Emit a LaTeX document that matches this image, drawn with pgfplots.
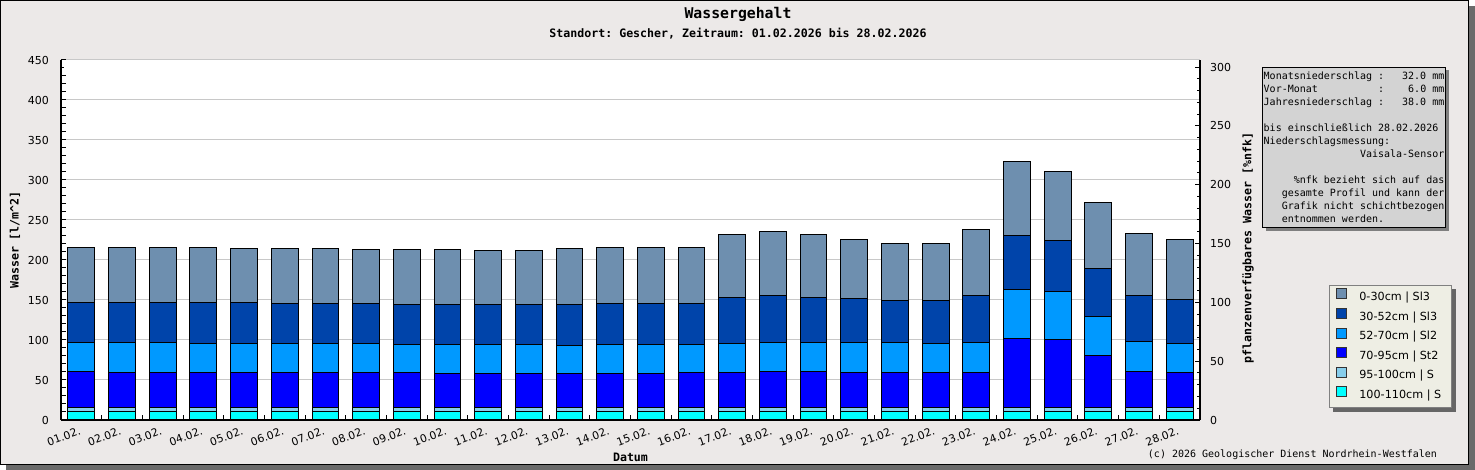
\documentclass[border=0pt]{standalone}
\usepackage{fontspec}
\usepackage{pgfplots}
\usepackage{pgfplotstable}
\pgfplotsset{compat=1.18}
\usetikzlibrary{shadows}
\newfontfamily\monofont{DejaVu Sans Mono}
\newfontfamily\sansfont{DejaVu Sans}
\definecolor{bg}{HTML}{ECE9E8}
\definecolor{frameshadow}{HTML}{6A6A6A}
\definecolor{gridgray}{HTML}{C8C8C8}
\definecolor{cA}{HTML}{6E8FAF}
\definecolor{cB}{HTML}{0044AA}
\definecolor{cC}{HTML}{0099FF}
\definecolor{cD}{HTML}{0000FF}
\definecolor{cE}{HTML}{87CEEB}
\definecolor{cF}{HTML}{00FFFF}
\definecolor{boxgray}{HTML}{D3D3D3}
\definecolor{boxshadow}{HTML}{7F7F7F}
\definecolor{legbg}{HTML}{EEEEE4}
\definecolor{legborder}{HTML}{808080}
\definecolor{legshadow}{HTML}{666666}
\pgfdeclarelayer{back}
\pgfdeclarelayer{shadow}
\pgfsetlayers{back,shadow,main}
\frenchspacing

% cumulative heights (top edge of each layer), l/m^2
\pgfplotstableread{
day tot c30 c52 c70 c95 c100
1 215.8 147.0 96.7 60.8 15.5 11
2 215.8 147.0 96.7 59.6 15.5 11
3 215.8 147.0 96.7 59.6 15.5 11
4 215.8 147.0 95.4 59.6 15.5 11
5 214.6 147.0 95.4 59.6 15.5 11
6 214.6 145.8 95.4 59.6 15.5 11
7 214.6 145.8 95.4 59.6 15.5 11
8 213.3 145.8 95.4 59.6 15.5 11
9 213.3 144.6 94.2 59.6 15.5 11
10 213.3 144.6 94.2 58.3 15.5 11
11 212.0 144.6 94.2 58.3 15.5 11
12 212.0 144.6 94.2 58.3 15.5 11
13 214.6 144.6 93.3 58.3 15.5 11
14 215.8 145.8 94.2 58.3 15.5 11
15 215.8 145.8 94.2 58.3 15.5 11
16 215.8 145.8 94.2 59.6 15.5 11
17 232.1 153.3 95.8 59.6 15.5 11
18 235.8 155.8 97.1 61.2 15.5 11
19 232.1 153.3 97.1 61.2 15.5 11
20 225.8 152.1 97.1 59.6 15.5 11
21 220.8 149.6 97.1 59.6 15.5 11
22 220.8 149.6 95.8 59.6 15.5 11
23 238.3 155.8 97.1 59.6 15.5 11
24 323.3 230.8 163.3 102.1 15.5 11
25 310.8 224.6 160.8 100.8 15.5 11
26 272.1 189.6 129.6 80.8 15.5 11
27 233.3 155.8 98.3 60.8 15.5 11
28 225.8 150.8 95.8 59.6 15.5 11
}\data

\pgfplotsset{sq/.style={legend image code/.code={\draw[##1,line width=0.4pt,draw=black!80] (0pt,-0.6pt) rectangle (5pt,4.4pt);}}}

\begin{document}
\begin{tikzpicture}
\begin{pgfonlayer}{back}
\fill[frameshadow] (3pt,0pt) rectangle (737.5pt,232pt);
\fill[bg,draw=black,line width=0.6pt] (0.3pt,2.8pt) rectangle (734.2pt,234.7pt);
\end{pgfonlayer}

\node[font=\monofont\bfseries\fontsize{7.4}{8}\selectfont] at (369pt,227.6pt) {Wassergehalt};
\node[font=\monofont\bfseries\fontsize{5.8}{7}\selectfont] at (369pt,218pt) {Standort: Gescher, Zeitraum: 01.02.2026 bis 28.02.2026};
\node[font=\monofont\fontsize{5}{6}\selectfont,anchor=east] at (722pt,7.5pt) {(c) 2026 Geologischer Dienst Nordrhein-Westfalen};

\begin{axis}[
  at={(30.5pt,25pt)}, anchor=south west, scale only axis,
  width=569.5pt, height=180pt,
  xmin=0.5, xmax=28.5, ymin=0, ymax=450,
  axis background/.style={fill=white},
  ybar, bar width=13.4pt, bar shift=0pt,
  axis x line*=bottom, axis y line*=left,
  axis line style={-, line width=0.6pt, black},
  xtick={1,...,28},
  xticklabels={01.02.,02.02.,03.02.,04.02.,05.02.,06.02.,07.02.,08.02.,09.02.,10.02.,11.02.,12.02.,13.02.,14.02.,15.02.,16.02.,17.02.,18.02.,19.02.,20.02.,21.02.,22.02.,23.02.,24.02.,25.02.,26.02.,27.02.,28.02.},
  minor xtick={1.5,2.5,...,27.5},
  major x tick style={draw=none},
  ytick={0,50,...,450}, minor y tick num=4,
  ymajorgrids, grid style={draw=gridgray, line width=0.5pt},
  major tick length=2.5pt, minor tick length=2.5pt,
  minor y tick style={shorten >=1.2pt},
  tick style={black, line width=0.5pt},
  tick align=inside,
  /pgf/number format/assume math mode=true,
  yticklabel style={font=\sansfont\fontsize{5.5}{6}\selectfont, xshift=-2.5pt},
  xticklabel style={font=\sansfont\fontsize{5.4}{6}\selectfont, xshift=-1pt, yshift=-2.5pt, rotate=20, anchor=north east, inner sep=0.5pt},
  every axis y label/.style={at={(axis description cs:0,0.5)}, xshift=-23pt, rotate=90, anchor=center},
  every axis x label/.style={at={(axis description cs:0.5,0)}, anchor=center, yshift=-18.5pt},
  ylabel={Wasser [l/m\textasciicircum 2]},
  xlabel={Datum},
  label style={font=\monofont\bfseries\fontsize{5.8}{7}\selectfont},
  legend style={at={(axis description cs:1.1133,0.375)}, anchor=north west,
    name=leg,
    fill=legbg, draw=legborder, line width=0.5pt,
    font=\sansfont\fontsize{5.6}{6.5}\selectfont,
    row sep=0pt, column sep=4.5pt, inner xsep=3pt, inner ysep=1.2pt},
  legend cell align=left,
]
\addplot[fill=cA, draw=black, line width=0.5pt, sq] table[x=day,y=tot]{\data};
\addlegendentry{0-30cm | Sl3}
\addplot[fill=cB, draw=black, line width=0.5pt, sq] table[x=day,y=c30]{\data};
\addlegendentry{30-52cm | Sl3}
\addplot[fill=cC, draw=black, line width=0.5pt, sq] table[x=day,y=c52]{\data};
\addlegendentry{52-70cm | Sl2}
\addplot[fill=cD, draw=black, line width=0.5pt, sq] table[x=day,y=c70]{\data};
\addlegendentry{70-95cm | St2}
\addplot[fill=cE, draw=black, line width=0.5pt, sq] table[x=day,y=c95]{\data};
\addlegendentry{95-100cm | S}
\addplot[fill=cF, draw=black, line width=0.5pt, sq] table[x=day,y=c100]{\data};
\addlegendentry{100-110cm | S}
\end{axis}

\begin{pgfonlayer}{shadow}
\fill[legshadow] ([xshift=2pt,yshift=-2pt]leg.south west) rectangle ([xshift=2pt,yshift=-2pt]leg.north east);
\end{pgfonlayer}

\begin{axis}[
  at={(30.5pt,25pt)}, anchor=south west, scale only axis,
  width=569.5pt, height=180pt,
  xmin=0.5, xmax=28.5, ymin=0, ymax=306,
  axis x line=none, axis y line*=right,
  axis line style={-, line width=0.6pt, black},
  ytick={0,50,...,300}, minor y tick num=4,
  major tick length=2.5pt, minor tick length=1.5pt,
  tick style={black, line width=0.5pt},
  tick align=inside,
  /pgf/number format/assume math mode=true,
  yticklabel style={font=\sansfont\fontsize{5.5}{6}\selectfont, xshift=1.5pt},
  every axis y label/.style={at={(axis description cs:1,0.5)}, xshift=24pt, yshift=-4pt, rotate=90, anchor=center},
  ylabel={pflanzenverfügbares Wasser [\%nfk]},
  label style={font=\monofont\bfseries\fontsize{5.8}{7}\selectfont},
]
\end{axis}

\node[anchor=north west, fill=boxgray, draw=black, line width=0.5pt,
  inner xsep=0.6pt, inner ysep=2.4pt, align=left,
  font=\monofont\fontsize{5}{6.5}\selectfont,
  drop shadow={shadow xshift=1.5pt, shadow yshift=-1.5pt, fill=boxshadow, opacity=1}]
  at (631pt,201.5pt) {Monatsniederschlag~:~~~32.0~mm\\
Vor-Monat~~~~~~~~~~:~~~~6.0~mm\\
Jahresniederschlag~:~~~38.0~mm\\
\null~\\
bis einschließlich 28.02.2026\\
Niederschlagsmessung:\\
\null~~~~~~~~~~~~~~~~Vaisala-Sensor\\
\null~\\
\null~~~~~\%nfk bezieht sich auf das\\
\null~~~gesamte Profil und kann der\\
\null~~~Grafik nicht schichtbezogen\\
\null~~~entnommen werden.};

\pgfresetboundingbox
\path (0pt,0pt) rectangle (737.5pt,235pt);
\end{tikzpicture}
\end{document}
